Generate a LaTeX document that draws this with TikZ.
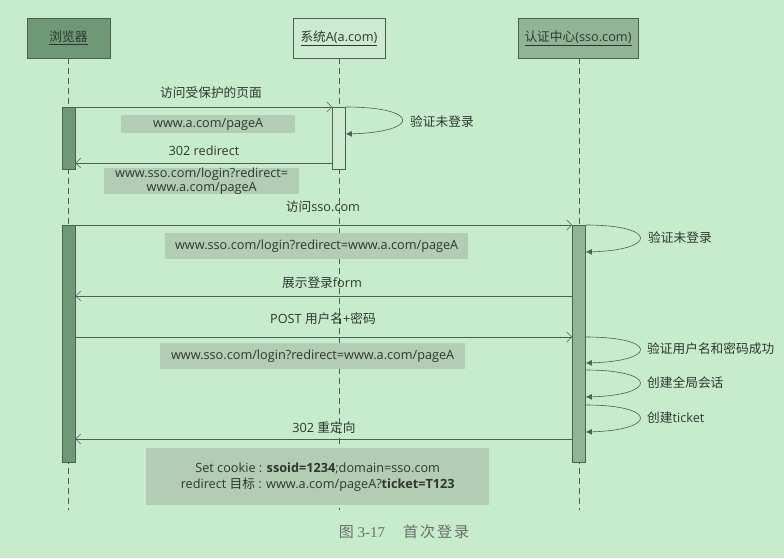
\documentclass[tikz,border=0pt]{standalone}
\usepackage{fontspec}
\setmainfont{Open Sans}
\newfontfamily\zhfont{Noto Sans CJK SC}
\newfontfamily\capserif{Liberation Serif}
\newcommand{\zh}[1]{{\zhfont #1}}
\usetikzlibrary{arrows.meta}
\definecolor{bgc}{HTML}{C7ECCC}
\definecolor{linec}{HTML}{4E5E50}
\definecolor{txt}{HTML}{2E372F}
\definecolor{browserc}{HTML}{6F9875}
\definecolor{sysac}{HTML}{CCEACF}
\definecolor{ssoc}{HTML}{90B595}
\definecolor{notec}{HTML}{B2CDB4}
\definecolor{capc}{HTML}{6A6F6B}
\begin{document}
\begin{tikzpicture}[x=1pt,y=-1pt,
  every node/.style={font=\fontsize{12.7}{16}\selectfont, text=txt},
  head/.style={draw=linec, line width=0.6pt, minimum height=40pt, inner sep=0pt},
  life/.style={draw=linec, line width=0.6pt, dash pattern=on 6pt off 4pt},
  actbar/.style={draw=linec, line width=0.6pt, minimum width=13pt, inner sep=0pt, anchor=north},
  msg/.style={draw=linec, line width=0.6pt, -{Straight Barb[length=5pt,width=10pt]}},
  selfmsg/.style={draw=linec, line width=0.6pt, -{Latex[length=6pt,width=6pt]}},
  note/.style={fill=notec, inner sep=0pt, anchor=north west, align=center},
  lbl/.style={inner sep=0pt},
  looplbl/.style={inner sep=0pt, anchor=west}
]
\fill[bgc] (0,0) rectangle (784,558);
\useasboundingbox (0,0) rectangle (784,558);

% headers
\node[head, fill=browserc, minimum width=83pt] (hb) at (68.5,38) {\underline{\zh{浏览器}}};
\node[head, fill=sysac, minimum width=92pt] (ha) at (339,38) {\underline{\zh{系统}A(a.com)}};
\node[head, fill=ssoc, minimum width=120pt] (hs) at (578,38) {\underline{\zh{认证中心}(sso.com)}};

% lifelines
\coordinate (eb) at (68.5,510);
\coordinate (ea) at (339,510);
\coordinate (es) at (579,510);
\draw[life] (hb.south) -- (eb);
\draw[life] (ha.south) -- (ea);
\draw[life] (hs.south -| es) -- (es);

% activation bars
\node[actbar, fill=browserc, minimum height=62pt] (b1) at (68.5,107) {};
\node[actbar, fill=sysac, minimum height=62pt] (a1) at (339,107) {};
\node[actbar, fill=browserc, minimum height=237pt] (b2) at (68.5,225) {};
\node[actbar, fill=ssoc, minimum height=237pt] (s1) at (579,225) {};

% message 1
\draw[msg] (b1.north east) -- (a1.north west);
\node[lbl] (l1) at (211,93) {\zh{访问受保护的页面}};
\node[note, minimum width=174pt, minimum height=18pt] (n1) at (121,115) {www.a.com/pageA};

% self check at A
\draw[selfmsg] (a1.north east) .. controls +(75,0) and +(75,-2) .. (a1.east |- 0,134);
\node[looplbl] (la) at (410,122) {\zh{验证未登录}};

% message 2
\draw[msg] (a1.west |- 0,163) -- (b1.east |- 0,163);
\node[lbl] (l2) at (204,151) {302 redirect};
\node[note, minimum width=195pt, minimum height=26pt, font=\fontsize{12.7}{13.5}\selectfont] (n2) at (104,168) {www.sso.com/login?redirect=\\www.a.com/pageA};

% message 3
\draw[msg] (b2.north east) -- (s1.north west);
\node[lbl] (l3) at (323,207) {\zh{访问}sso.com};
\node[note, minimum width=303pt, minimum height=26pt] (n3) at (165,233) {www.sso.com/login?redirect=www.a.com/pageA};
\draw[selfmsg] (s1.north east) .. controls +(72,0) and +(72,-2) .. (s1.east |- 0,252);
\node[looplbl] (ls1) at (648,238) {\zh{验证未登录}};

% message 4
\draw[msg] (s1.west |- 0,296) -- (b2.east |- 0,296);
\node[lbl] (l4) at (322,283) {\zh{展示登录}form};

% message 5
\draw[msg] (b2.east |- 0,337) -- (s1.west |- 0,337);
\node[lbl] (l5) at (323,319) {POST \zh{用户名}+\zh{密码}};
\node[note, minimum width=305pt, minimum height=26pt] (n4) at (160,343) {www.sso.com/login?redirect=www.a.com/pageA};
\draw[selfmsg] (s1.east |- 0,337) .. controls +(72,0) and +(72,-2) .. (s1.east |- 0,363);
\node[looplbl] (ls2) at (647,349) {\zh{验证用户名和密码成功}};
\draw[selfmsg] (s1.east |- 0,370) .. controls +(72,0) and +(72,-2) .. (s1.east |- 0,397);
\node[looplbl] (ls3) at (647,383) {\zh{创建全局会话}};
\draw[selfmsg] (s1.east |- 0,405) .. controls +(72,0) and +(72,-2) .. (s1.east |- 0,432);
\node[looplbl] (ls4) at (647,418) {\zh{创建}ticket};

% message 6
\draw[msg] (s1.west |- 0,439) -- (b2.east |- 0,439);
\node[lbl] (l6) at (324,428) {302 \zh{重定向}};
\node[note, minimum width=343pt, minimum height=57pt] (n5) at (146,448) {Set cookie : \textbf{ssoid=1234};domain=sso.com\\redirect \zh{目标} : www.a.com/pageA?\textbf{ticket=T123}};

% caption
\node[lbl, text=capc, font=\fontsize{15}{17}\selectfont] (cap) at (404,532) {\zh{图} \capserif 3-17\hspace{1.2em}\zh{首\hspace{2pt}次\hspace{2pt}登\hspace{2pt}录}};
\end{tikzpicture}
\end{document}
